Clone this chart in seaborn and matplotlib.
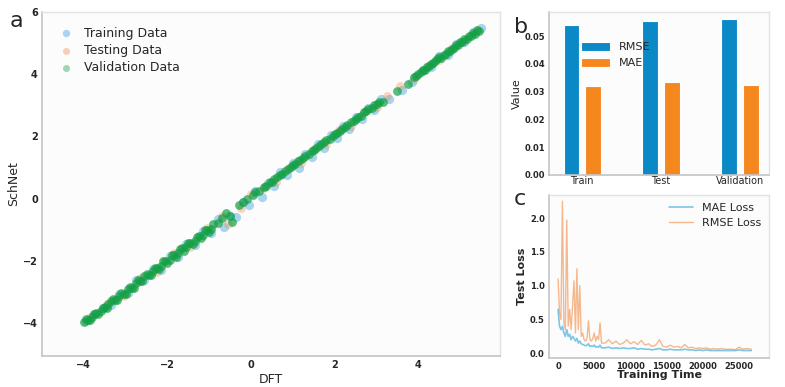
import numpy as np
import pandas as pd
import matplotlib
matplotlib.use('Agg')
import matplotlib.pyplot as plt
import seaborn as sns

# ---- panel a: DFT vs SchNet scatter
train_x = [-3.95, -3.75, -3.55, -3.35, -3.15, -2.95, -2.75, -2.55, -2.35, -2.15, -1.95, -1.75, -1.55, -1.35,
           -1.15, -0.95, -0.8, -0.65, -0.5, -0.35, -0.2, -0.05, 0.1, 0.25, 0.4, 0.55, 0.7, 0.85, 1.0, 1.15,
           1.3, 1.45, 1.6, 1.75, 1.9, 2.05, 2.2, 2.35, 2.5, 2.65, 2.8, 2.95, 3.1, 3.3, 3.6, 3.85, 4.1, 4.3,
           4.5, 4.7, 4.9, 5.1, 5.3, 5.5]
train_y = [-3.92, -3.72, -3.5, -3.42, -3.05, -3.02, -2.62, -2.62, -2.25, -2.28, -1.85, -1.88, -1.45, -1.5,
           -1.05, -1.1, -0.65, -0.9, -0.55, -0.6, -0.1, -0.2, 0.25, 0.05, 0.5, 0.4, 0.85, 0.75, 1.15, 1.0,
           1.45, 1.35, 1.75, 1.62, 2.05, 1.95, 2.35, 2.25, 2.62, 2.55, 2.92, 2.85, 3.2, 3.2, 3.5, 3.75, 4.15, 4.22,
           4.58, 4.62, 4.98, 5.05, 5.35, 5.5]

test_x = [-3.85, -3.45, -3.05, -2.65, -2.25, -1.85, -1.45, -1.05, -0.7, -0.55, -0.25, 0.0, 0.3, 0.6, 0.9,
          1.2, 1.5, 1.8, 2.1, 2.4, 2.7, 3.0, 3.25, 3.55, 3.9, 4.2, 4.5, 4.8, 5.1, 5.4]
test_y = [-3.82, -3.38, -3.12, -2.55, -2.35, -1.75, -1.55, -0.95, -0.55, -0.8, -0.3, 0.15, 0.35, 0.55, 1.0,
          1.15, 1.6, 1.75, 2.2, 2.35, 2.78, 2.95, 3.3, 3.62, 3.85, 4.25, 4.45, 4.85, 5.08, 5.42]

val_x = [-4.0, -3.9, -3.8, -3.7, -3.6, -3.5, -3.42, -3.35, -3.25, -3.15, -3.05, -2.95, -2.85, -2.75, -2.65,
         -2.55, -2.45, -2.35, -2.25, -2.15, -2.05, -1.95, -1.85, -1.75, -1.65, -1.55, -1.45, -1.35, -1.25,
         -1.15, -1.05, -0.95, -0.8, -0.6, -0.45, -0.3, -0.1, 0.05, 0.2, 0.35, 0.5, 0.62, 0.75, 0.88, 1.0,
         1.12, 1.25, 1.38, 1.5, 1.62, 1.75, 1.88, 2.0, 2.12, 2.25, 2.38, 2.5, 2.62, 2.75, 2.88, 3.0, 3.15,
         3.5, 3.75, 3.95, 4.05, 4.15, 4.25, 4.35, 4.45, 4.55, 4.65, 4.75, 4.85, 4.95, 5.05, 5.15, 5.25,
         5.35, 5.45]
val_y = [-3.97, -3.9, -3.82, -3.68, -3.62, -3.47, -3.4, -3.3, -3.27, -3.12, -3.06, -2.9, -2.88, -2.72, -2.66,
         -2.5, -2.47, -2.33, -2.22, -2.15, -2.0, -1.96, -1.82, -1.74, -1.6, -1.56, -1.42, -1.36, -1.2,
         -1.18, -1.0, -0.98, -0.78, -0.45, -0.75, -0.2, 0.0, 0.12, 0.25, 0.4, 0.55, 0.7, 0.8, 0.95, 1.08,
         1.2, 1.3, 1.45, 1.55, 1.7, 1.82, 1.92, 2.08, 2.18, 2.3, 2.45, 2.55, 2.66, 2.82, 2.9, 3.05, 3.1,
         3.45, 3.7, 3.95, 4.08, 4.13, 4.28, 4.35, 4.48, 4.52, 4.66, 4.74, 4.85, 4.94, 5.05, 5.12, 5.22,
         5.3, 5.38]
# more validation points (the dense parts of the band)
val_x2 = [-3.95, -3.85, -3.75, -3.65, -3.55, -3.45, -3.3, -3.2, -3.1, -3.0, -2.9, -2.8, -2.7, -2.6, -2.5,
          -2.4, -2.3, -2.2, -2.1, -2.0, -1.9, -1.8, -1.7, -1.6, -1.5, -1.4, -1.3, -1.2, -1.1, -1.0, -0.9,
          -0.7, -0.5, -0.2, 0.1, 0.3, 0.45, 0.55, 0.68, 0.8, 0.95, 1.05, 1.18, 1.3, 1.45, 1.55, 1.68, 1.8,
          1.95, 2.05, 2.18, 2.3, 2.45, 2.55, 2.7, 2.8, 2.95, 3.05, 3.9, 4.0, 4.1, 4.2, 4.3, 4.4, 4.5, 4.6,
          4.7, 4.8, 4.9, 5.0, 5.1, 5.2, 5.3, 5.4]
val_y2 = [-3.88, -3.9, -3.7, -3.7, -3.5, -3.5, -3.22, -3.26, -3.02, -3.06, -2.83, -2.86, -2.62, -2.66, -2.42,
          -2.46, -2.22, -2.27, -2.02, -2.08, -1.82, -1.87, -1.62, -1.68, -1.42, -1.47, -1.22, -1.28, -1.02, -1.08, -0.82,
          -0.62, -0.55, -0.1, 0.2, 0.38, 0.52, 0.62, 0.75, 0.9, 1.02, 1.12, 1.25, 1.38, 1.52, 1.62, 1.75, 1.88,
          2.02, 2.12, 2.25, 2.38, 2.5, 2.62, 2.78, 2.88, 3.0, 3.12, 3.92, 4.02, 4.15, 4.22, 4.34, 4.42, 4.55, 4.62,
          4.74, 4.82, 4.94, 5.02, 5.14, 5.22, 5.32, 5.42]

# ---- panel b: error bars
splits = ['Train', 'Test', 'Validation']
rmse = [0.054, 0.0555, 0.056]
mae = [0.032, 0.0335, 0.0325]

# ---- panel c: test loss over training time
time = [0, 200, 400, 600, 800, 1000, 1200, 1400, 1600, 1800, 2000, 2200, 2400, 2600, 2800, 3000,
        3200, 3400, 3600, 3800, 4000, 4200, 4400, 4600, 4800, 5000, 5200, 5400, 5600, 5800, 6000,
        6500, 7000, 7500, 8000, 8500, 9000, 9500, 10000, 10500, 11000, 11500, 12000, 12500, 13000,
        13500, 14000, 14500, 15000, 15500, 16000, 16500, 17000, 17500, 18000, 18500, 19000, 19500,
        20000, 20500, 21000, 21500, 22000, 22500, 23000, 23500, 24000, 24500, 25000, 25500, 26000, 26700]
rmse_loss = [1.10, 0.60, 0.50, 2.25, 0.45, 0.35, 1.97, 0.40, 0.65, 0.35, 0.70, 1.07, 0.30, 1.25, 0.35, 1.00,
             0.25, 0.30, 0.20, 0.18, 0.22, 0.48, 0.20, 0.18, 0.22, 0.30, 0.18, 0.25, 0.20, 0.45, 0.15,
             0.15, 0.20, 0.14, 0.18, 0.13, 0.15, 0.20, 0.14, 0.17, 0.13, 0.19, 0.12, 0.14, 0.10,
             0.12, 0.20, 0.10, 0.09, 0.12, 0.09, 0.10, 0.08, 0.13, 0.08, 0.09, 0.07, 0.08,
             0.07, 0.08, 0.06, 0.07, 0.06, 0.07, 0.06, 0.06, 0.06, 0.05, 0.09, 0.06, 0.07, 0.06]
mae_loss = [0.65, 0.40, 0.35, 0.40, 0.30, 0.25, 0.35, 0.25, 0.28, 0.20, 0.25, 0.22, 0.18, 0.22, 0.15, 0.18,
            0.14, 0.13, 0.12, 0.11, 0.12, 0.14, 0.10, 0.11, 0.10, 0.12, 0.09, 0.10, 0.09, 0.12, 0.08,
            0.08, 0.09, 0.07, 0.08, 0.07, 0.08, 0.07, 0.07, 0.08, 0.06, 0.07, 0.06, 0.06, 0.05,
            0.06, 0.07, 0.05, 0.05, 0.06, 0.05, 0.05, 0.05, 0.06, 0.05, 0.05, 0.04, 0.05,
            0.04, 0.05, 0.04, 0.04, 0.04, 0.04, 0.04, 0.04, 0.04, 0.04, 0.05, 0.04, 0.04, 0.04]

sns.set_style('white')
plt.rcParams['font.family'] = ['DejaVu Sans']

blue = '#2a9ad8'
orange = '#f28c4c'
green = '#14a046'
bar_blue = '#0b89c6'
bar_orange = '#f5871f'


def style_axes(ax, tick_size=7):
    for s in ['left', 'bottom']:
        ax.spines[s].set_color('#c4c4c4')
        ax.spines[s].set_linewidth(1.2)
    for s in ['top', 'right']:
        ax.spines[s].set_color('#e2e2e2')
        ax.spines[s].set_linewidth(1.0)
    ax.set_facecolor('#fcfcfc')
    ax.tick_params(length=0, pad=3, labelsize=tick_size)
    for lab in ax.get_xticklabels() + ax.get_yticklabels():
        lab.set_fontweight('bold')


fig = plt.figure(figsize=(7.85, 3.87), dpi=100)

# %% panel a
ax_a = fig.add_axes([0.0535, 0.080, 0.5834, 0.889])
sns.scatterplot(x=train_x, y=train_y, ax=ax_a, color=blue, alpha=0.4, s=44, linewidth=0, label='Training Data')
sns.scatterplot(x=test_x, y=test_y, ax=ax_a, color=orange, alpha=0.35, s=40, linewidth=0, label='Testing Data')
sns.scatterplot(x=val_x + val_x2, y=val_y + val_y2, ax=ax_a, color=green, alpha=0.7, s=40, linewidth=0,
                label='Validation Data')
ax_a.set_xlim(-5, 5.95)
ax_a.set_ylim(-5.06, 6.0)
ax_a.set_xticks([-4, -2, 0, 2, 4])
ax_a.set_yticks([-4, -2, 0, 2, 4, 6])
ax_a.set_xlabel('DFT', fontsize=9, labelpad=2)
ax_a.set_ylabel('SchNet', fontsize=9, labelpad=2)
style_axes(ax_a)
leg = ax_a.legend(loc='upper left', frameon=False, fontsize=9, handletextpad=0.5, markerscale=0.8,
                  bbox_to_anchor=(0.0, 0.99), labelspacing=0.35)
for h in leg.legend_handles:
    h.set_alpha(0.4)
fig.text(0.012, 0.93, 'a', fontsize=16)

# %% panel b
df_b = pd.DataFrame({'split': splits * 2, 'metric': ['RMSE'] * 3 + ['MAE'] * 3, 'value': rmse + mae})
ax_b = fig.add_axes([0.6994, 0.548, 0.2803, 0.421])
sns.barplot(data=df_b, x='split', y='value', hue='metric', ax=ax_b, saturation=1,
            palette=[bar_blue, bar_orange], width=0.54, gap=0.25, edgecolor='white', linewidth=0.8)
ax_b.set_xlim(-0.42, 2.37)
ax_b.set_ylim(0, 0.0587)
ax_b.set_yticks([0, 0.01, 0.02, 0.03, 0.04, 0.05])
ax_b.set_xlabel('')
ax_b.set_ylabel('Value', fontsize=8, labelpad=2)
style_axes(ax_b, tick_size=6)
ax_b.tick_params(axis='x', pad=1, labelsize=7)
for lab in ax_b.get_xticklabels():
    lab.set_fontweight('normal')
ax_b.legend(loc='upper left', bbox_to_anchor=(0.1, 0.88), frameon=False, fontsize=8,
            handlelength=2.6, handleheight=0.9, title=None)
fig.text(0.655, 0.915, 'b', fontsize=16)

# %% panel c
ax_c = fig.add_axes([0.6994, 0.075, 0.2803, 0.421])
sns.lineplot(x=time, y=mae_loss, ax=ax_c, color='#3aa9dc', alpha=0.65, linewidth=1.2, label='MAE Loss')
sns.lineplot(x=time, y=rmse_loss, ax=ax_c, color='#f08030', alpha=0.55, linewidth=1, label='RMSE Loss')
ax_c.set_xlim(-1250, 29150)
ax_c.set_ylim(-0.07, 2.34)
ax_c.set_xticks([0, 5000, 10000, 15000, 20000, 25000])
ax_c.set_yticks([0.0, 0.5, 1.0, 1.5, 2.0])
ax_c.set_xlabel('Training Time', fontsize=8, fontweight='bold', labelpad=-1)
ax_c.set_ylabel('Test Loss', fontsize=8, fontweight='bold', labelpad=2)
style_axes(ax_c, tick_size=6)
ax_c.legend(loc='upper right', frameon=False, fontsize=8, handlelength=2.2, borderaxespad=0.3)
fig.text(0.655, 0.47, 'c', fontsize=16)

plt.savefig('out.png', dpi=100)
